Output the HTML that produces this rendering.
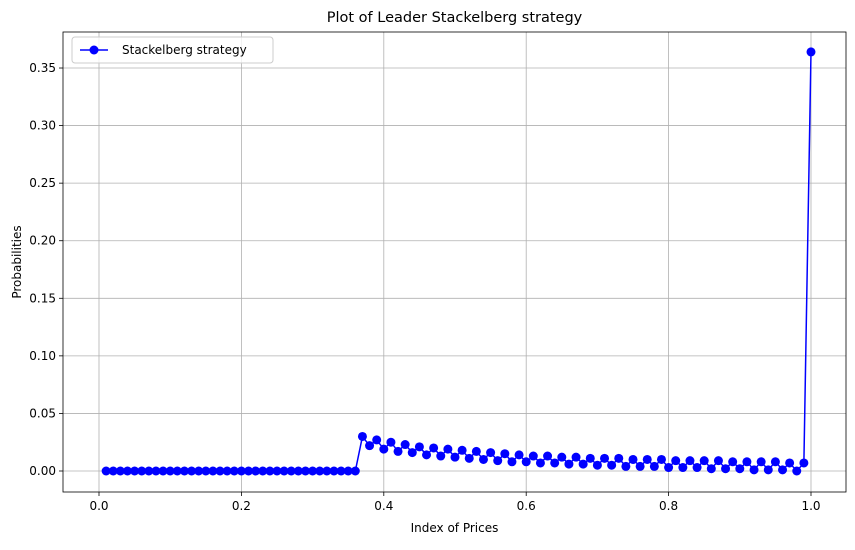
<!DOCTYPE html>
<html><head><meta charset="utf-8"><style>
body{margin:0;background:#fff;font-family:"Liberation Sans","DejaVu Sans",sans-serif;}
svg text{font-family:"DejaVu Sans","Liberation Sans",sans-serif;}
</style></head><body>
<svg id="chart" width="855" height="545" xmlns="http://www.w3.org/2000/svg"></svg>
<script>
const xTicks=[0.0,0.2,0.4,0.6,0.8,1.0];
const xTickLabels=["0.0","0.2","0.4","0.6","0.8","1.0"];
const yTicks=[0,0.05,0.10,0.15,0.20,0.25,0.30,0.35];
const yTickLabels=["0.00","0.05","0.10","0.15","0.20","0.25","0.30","0.35"];
const prices=[0.01,0.02,0.03,0.04,0.05,0.06,0.07,0.08,0.09,0.10,0.11,0.12,0.13,0.14,0.15,0.16,0.17,0.18,0.19,0.20,0.21,0.22,0.23,0.24,0.25,0.26,0.27,0.28,0.29,0.30,0.31,0.32,0.33,0.34,0.35,0.36,0.37,0.38,0.39,0.40,0.41,0.42,0.43,0.44,0.45,0.46,0.47,0.48,0.49,0.50,0.51,0.52,0.53,0.54,0.55,0.56,0.57,0.58,0.59,0.60,0.61,0.62,0.63,0.64,0.65,0.66,0.67,0.68,0.69,0.70,0.71,0.72,0.73,0.74,0.75,0.76,0.77,0.78,0.79,0.80,0.81,0.82,0.83,0.84,0.85,0.86,0.87,0.88,0.89,0.90,0.91,0.92,0.93,0.94,0.95,0.96,0.97,0.98,0.99,1.00];
const probs=[0,0,0,0,0,0,0,0,0,0,0,0,0,0,0,0,0,0,0,0,0,0,0,0,0,0,0,0,0,0,0,0,0,0,0,0,
0.030,0.022,0.027,0.019,0.025,0.017,0.023,0.016,0.021,0.014,0.020,0.013,0.019,0.012,0.018,0.011,0.017,0.010,0.016,0.009,0.015,0.008,0.014,0.008,0.013,0.007,0.013,0.007,0.012,0.006,0.012,0.006,0.011,0.005,0.011,0.005,0.011,0.004,0.010,0.004,0.010,0.004,0.010,0.003,0.009,0.003,0.009,0.003,0.009,0.002,0.009,0.002,0.008,0.002,0.008,0.001,0.008,0.001,0.008,0.001,0.007,0.000,0.007,
0.364];
const L=63,R=846,T=32,B=492;
const xs=v=>99+v*712;
const ys=v=>471-v*1151.4;
const svg=document.getElementById('chart');
const NS="http://www.w3.org/2000/svg";
function mk(tag,attrs,parent){const e=document.createElementNS(NS,tag);for(const k in attrs)e.setAttribute(k,attrs[k]);(parent||svg).appendChild(e);return e;}
// grid
xTicks.forEach((t,i)=>{
 const g=mk('line',{x1:xs(t),x2:xs(t),y1:T,y2:B,stroke:'#b0b0b0','stroke-width':0.8});
 
 
 const tk=mk('line',{x1:xs(t),x2:xs(t),y1:B,y2:B+4,stroke:'#000','stroke-width':0.8});
 
 
 const tx=mk('text',{x:xs(t),y:B+18,'text-anchor':'middle','font-size':12});
 tx.textContent=xTickLabels[i];
 
 
});
yTicks.forEach((t,i)=>{
 const g=mk('line',{x1:L,x2:R,y1:ys(t),y2:ys(t),stroke:'#b0b0b0','stroke-width':0.8});
 
 
 const tk=mk('line',{x1:L-4,x2:L,y1:ys(t),y2:ys(t),stroke:'#000','stroke-width':0.8});
 
 
 const tx=mk('text',{x:L-7,y:ys(t)+4,'text-anchor':'end','font-size':12});
 tx.textContent=yTickLabels[i];
 
 
});
const frame=mk('rect',{x:L,y:T,width:R-L,height:B-T,fill:'none',stroke:'#000','stroke-width':0.8});


// series
const pts=prices.map((p,i)=>xs(p)+','+ys(probs[i])).join(' ');
const line=mk('polyline',{points:pts,fill:'none',stroke:'#0000ff','stroke-width':1.5});


prices.forEach((p,i)=>{
 const c=mk('circle',{cx:xs(p),cy:ys(probs[i]),r:4.5,fill:'#0000ff'});
 
 
});
// labels
const title=mk('text',{x:(L+R)/2,y:22,'text-anchor':'middle','font-size':14.5});
title.textContent='Plot of Leader Stackelberg strategy';


const xl=mk('text',{x:(L+R)/2,y:532,'text-anchor':'middle','font-size':12});
xl.textContent='Index of Prices';


const yl=mk('text',{x:21,y:(T+B)/2,'text-anchor':'middle','font-size':12,transform:'rotate(-90 21 '+((T+B)/2)+')'});
yl.textContent='Probabilities';


// legend
const lg=mk('g',{});


mk('rect',{x:72,y:37,width:201,height:26,rx:3,fill:'#fff','fill-opacity':0.8,stroke:'#ccc','stroke-width':1},lg);
mk('line',{x1:80,x2:108,y1:50,y2:50,stroke:'#0000ff','stroke-width':1.5},lg);
mk('circle',{cx:94,cy:50,r:4.5,fill:'#0000ff'},lg);
const lt=mk('text',{x:122,y:54,'font-size':12},lg);
lt.textContent='Stackelberg strategy';


</script>
</body></html>
